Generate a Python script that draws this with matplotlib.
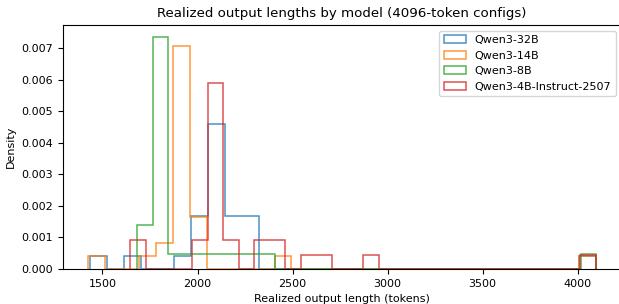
import matplotlib
matplotlib.use("Agg")
import matplotlib.pyplot as plt

# realized output lengths (tokens), one entry per config run
models = ["Qwen3-32B", "Qwen3-14B", "Qwen3-8B", "Qwen3-4B-Instruct-2507"]

qwen3_32b = [1435, 1650, 1921,
             1985, 2010, 2032, 2047,
             2061, 2068, 2075, 2083, 2090, 2097, 2104, 2112, 2120, 2128, 2137,
             2152, 2171, 2190, 2214,
             2240, 2262, 2285, 2309,
             4096]

qwen3_14b = [1426, 1730, 1805, 1848,
             1874, 1879, 1886, 1891, 1897, 1902, 1906, 1911, 1915,
             1919, 1924, 1929, 1934, 1938, 1944, 1949, 1956,
             1968, 1989, 2006, 2031,
             2440, 4096]

qwen3_8b = [1684, 1712, 1745,
            1768, 1773, 1779, 1784, 1788, 1793, 1797, 1801,
            1806, 1810, 1815, 1820, 1825, 1830, 1836, 1841,
            1880, 1962, 2040, 2121, 2200, 2290, 2371,
            4096]

qwen3_4b_instruct = [1646, 1690, 1990, 2030,
                     2060, 2066, 2071, 2077, 2083, 2089, 2095,
                     2101, 2107, 2113, 2119, 2125, 2131,
                     2155, 2190, 2320, 2360, 2400, 2445,
                     2580, 2665, 2910, 4096]

lengths = [qwen3_32b, qwen3_14b, qwen3_8b, qwen3_4b_instruct]

# reference looks like a bigger figure scaled down, so shrink the text
plt.rcParams["font.size"] = 8

fig = plt.figure(figsize=(6.19, 3.04), dpi=100)
ax = fig.add_axes([0.1018, 0.1151, 0.902, 0.8027])

for name, vals in zip(models, lengths):
    ax.hist(vals, bins=30, density=True, histtype="step", alpha=0.8,
            linewidth=1.1, label=name)

ax.set_title("Realized output lengths by model (4096-token configs)", fontsize=9.6)
ax.set_xlabel("Realized output length (tokens)")
ax.set_ylabel("Density")
ax.legend(loc="upper right")

fig.savefig("out.png", dpi=100)
